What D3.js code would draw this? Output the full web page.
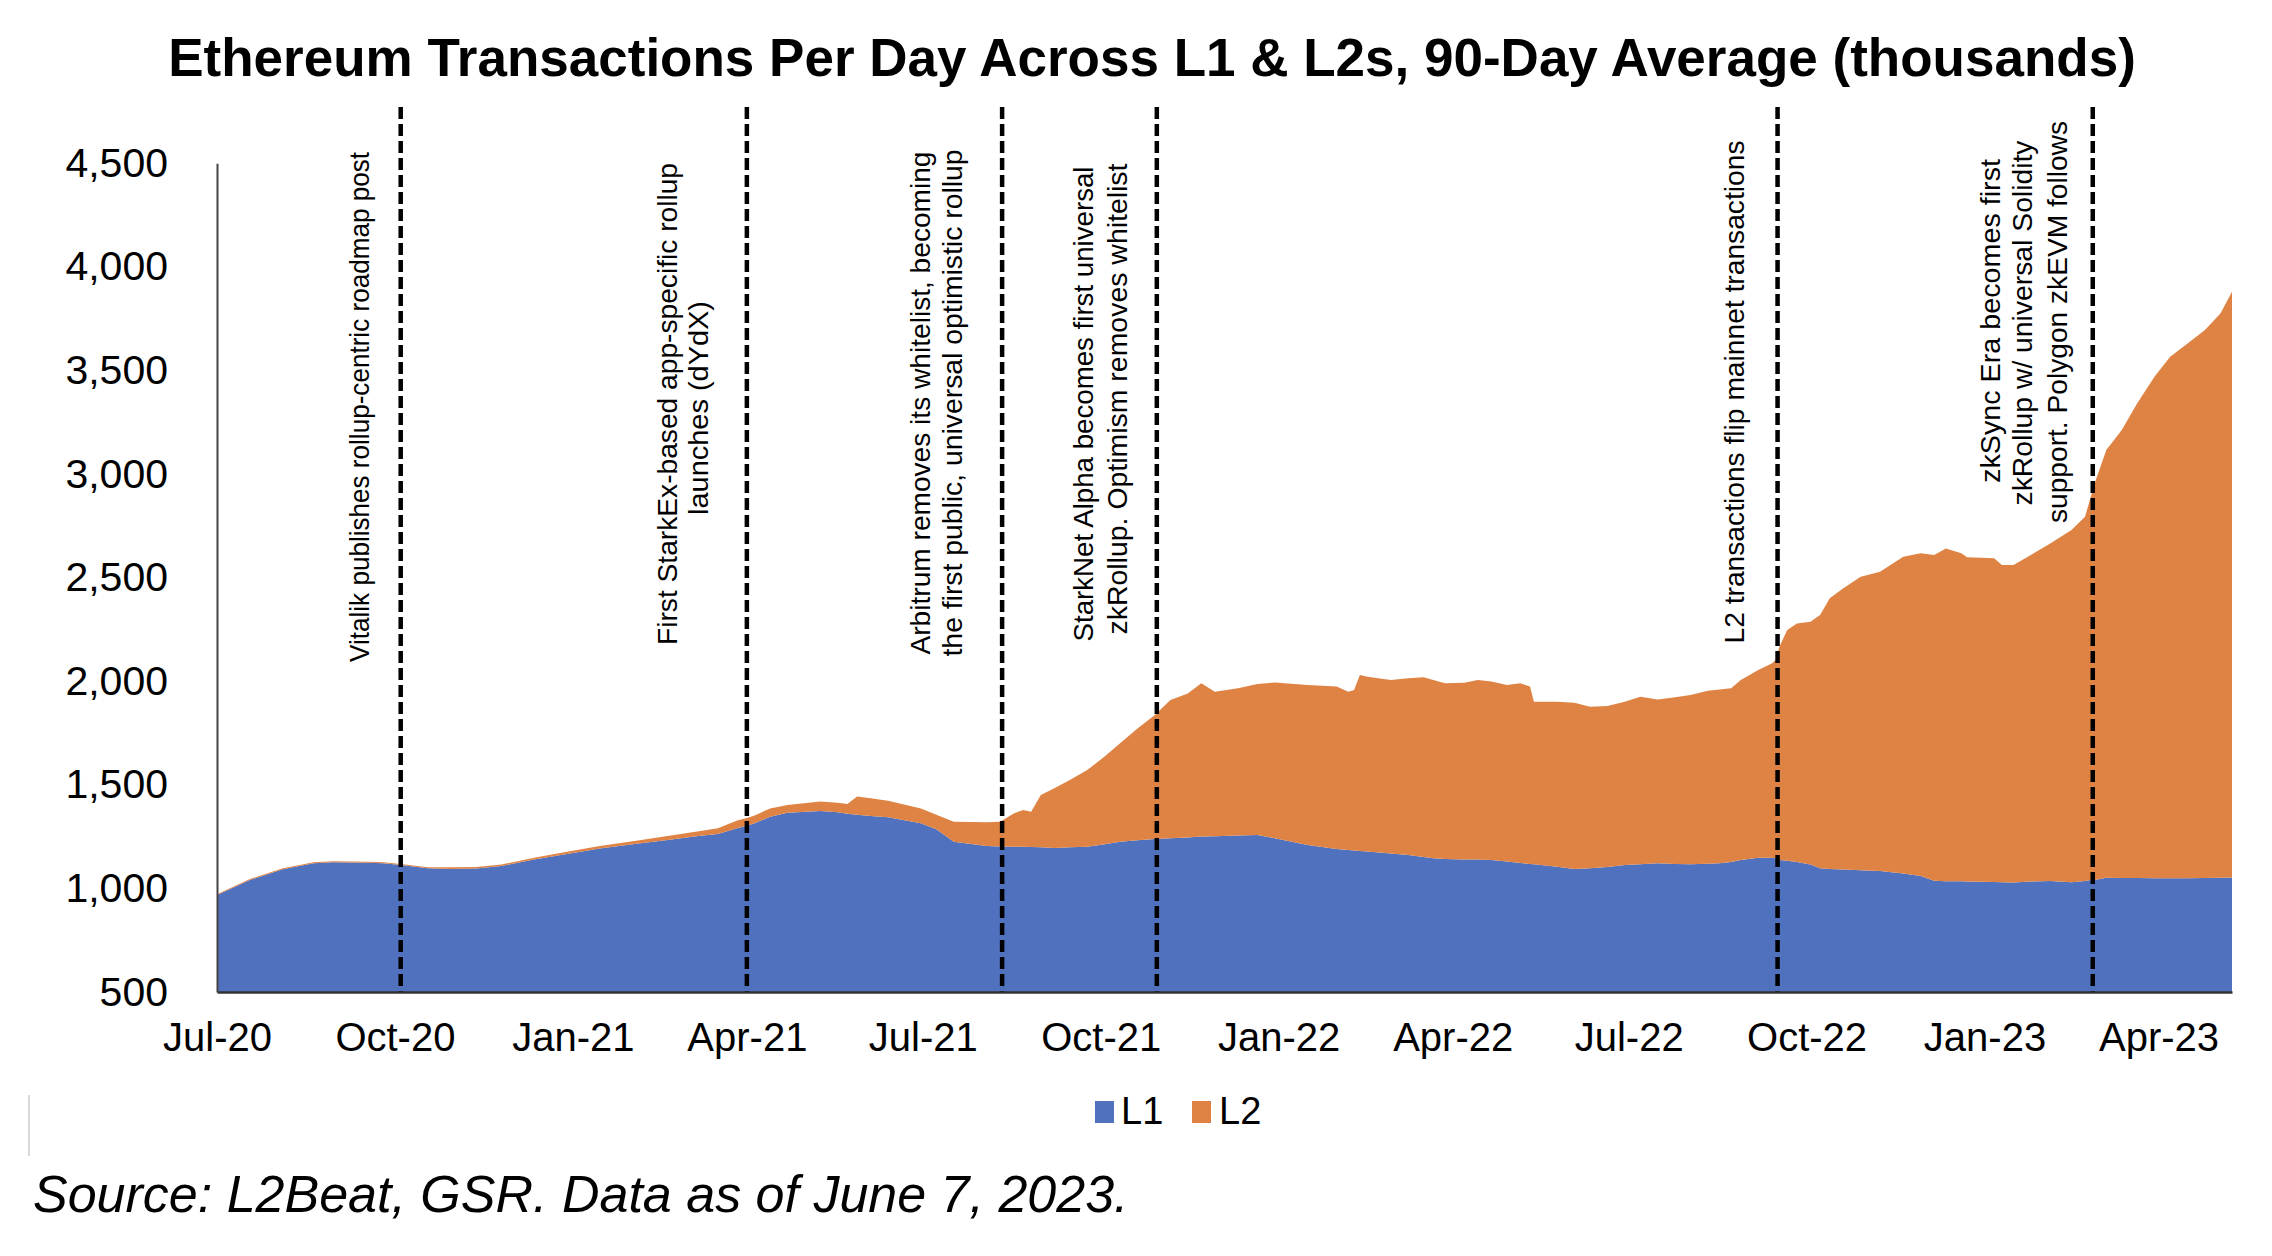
<!DOCTYPE html>
<html>
<head>
<meta charset="utf-8">
<script src="https://cdn.jsdelivr.net/npm/d3@7"></script>
<style>
html,body{margin:0;padding:0;background:#ffffff;}
svg{display:block;}
text{font-family:"Liberation Sans", Arial, Helvetica, sans-serif;}
</style>
</head>
<body>
<svg id="chart" width="2272" height="1256"></svg>
<script>
// ---------------- DATA ----------------
const chartTitle = "Ethereum Transactions Per Day Across L1 & L2s, 90-Day Average (thousands)";
const sourceNote = "Source: L2Beat, GSR. Data as of June 7, 2023.";
const seriesNames = ["L1", "L2"];

const dates = [
"2020-07-01","2020-07-18","2020-08-04","2020-08-20","2020-08-30","2020-09-17","2020-09-25","2020-10-04",
"2020-10-18","2020-10-30","2020-11-12","2020-11-25","2020-12-12","2020-12-29","2021-01-15","2021-02-02",
"2021-02-19","2021-03-08","2021-03-17","2021-03-27","2021-04-01","2021-04-05","2021-04-13","2021-04-22",
"2021-05-09","2021-05-18","2021-05-23","2021-05-28","2021-06-04","2021-06-13","2021-06-30","2021-07-08",
"2021-07-17","2021-08-03","2021-08-10","2021-08-17","2021-08-22","2021-08-26","2021-08-31","2021-09-07",
"2021-09-15","2021-09-24","2021-10-03","2021-10-11","2021-10-20","2021-10-29","2021-11-06","2021-11-15",
"2021-11-22","2021-11-29","2021-12-11","2021-12-21","2021-12-30","2022-01-16","2022-01-31","2022-02-06",
"2022-02-09","2022-02-12","2022-02-16","2022-02-28","2022-03-09","2022-03-17","2022-03-22","2022-03-28",
"2022-04-07","2022-04-14","2022-04-21","2022-04-29","2022-05-06","2022-05-11","2022-05-13","2022-05-25",
"2022-06-03","2022-06-11","2022-06-20","2022-06-29","2022-07-07","2022-07-16","2022-07-25","2022-08-02",
"2022-08-11","2022-08-17","2022-08-23","2022-08-28","2022-09-06","2022-09-13","2022-09-15","2022-09-17",
"2022-09-21","2022-09-26","2022-10-03","2022-10-08","2022-10-13","2022-10-20","2022-10-29","2022-11-08",
"2022-11-20","2022-11-29","2022-12-06","2022-12-12","2022-12-20","2022-12-23","2023-01-06","2023-01-10",
"2023-01-16","2023-01-25","2023-02-04","2023-02-15","2023-02-22","2023-02-25","2023-02-27","2023-03-05",
"2023-03-13","2023-03-21","2023-03-30","2023-04-07","2023-04-16","2023-04-25","2023-05-03","2023-05-09"
];

const l1Values = [
 968,1040,1092,1121,1126,1124,1121,1113,
1097,1094,1096,1108,1140,1166,1193,1214,
1234,1254,1262,1290,1302,1314,1346,1365,
1373,1367,1360,1355,1350,1343,1314,1285,
1225,1205,1202,1201,1201,1200,1198,1195,
1198,1201,1213,1225,1232,1238,1242,1246,
1250,1252,1255,1258,1242,1209,1190,1185,
1183,1181,1178,1168,1161,1152,1145,1142,
1140,1139,1137,1130,1122,1118,1116,1105,
1094,1097,1103,1113,1117,1121,1118,1116,
1119,1121,1128,1137,1148,1148,1145,1137,
1133,1127,1115,1097,1094,1091,1088,1084,
1072,1060,1037,1035,1034,1033,1031,1030,
1029,1033,1036,1030,1036,1040,1041,1052,
1050,1050,1049,1049,1049,1050,1051,1053
];

const l2Values = [
   4,   5,   5,   5,   5,   5,   5,   5,
   5,   8,   7,   7,   8,  11,  12,  15,
  19,  23,  28,  38,  38,  38,  40,  37,
  46,  46,  47,  88,  85,  80,  72,  70,
  97, 114, 120, 161, 177, 170, 253, 288,
 325, 370, 423, 475, 540, 599, 667, 695,
 740, 697, 711, 728, 752, 773, 784, 764,
 774, 849, 844, 838, 853, 867, 861, 848,
 853, 867, 861, 852, 868, 856, 785, 796,
 802, 780, 777, 788, 808, 791, 804, 817,
 835, 839, 838, 869, 906, 938, 957,1030,
1114,1152,1172,1222,1306,1357,1416,1444,
1529,1557,1572,1606,1583,1565,1562,1531,
1532,1576,1629,1700,1758,1850,1914,2064,
2162,2291,2421,2517,2581,2645,2724,2827
];

const yTickValues = [500,1000,1500,2000,2500,3000,3500,4000,4500];
const xTickDates  = ["2020-07-01","2020-10-01","2021-01-01","2021-04-01","2021-07-01","2021-10-01",
                     "2022-01-01","2022-04-01","2022-07-01","2022-10-01","2023-01-01","2023-04-01"];
const xTickLabels = ["Jul-20","Oct-20","Jan-21","Apr-21","Jul-21","Oct-21",
                     "Jan-22","Apr-22","Jul-22","Oct-22","Jan-23","Apr-23"];

const eventDates = ["2020-10-04","2021-04-01","2021-08-11","2021-10-30","2022-09-16","2023-02-26"];
const eventTexts = [
  ["Vitalik publishes rollup-centric roadmap post"],
  ["First StarkEx-based app-specific rollup", "launches (dYdX)"],
  ["Arbitrum removes its whitelist, becoming", "the first public, universal optimistic rollup"],
  ["StarkNet Alpha becomes first universal", "zkRollup. Optimism removes whitelist"],
  ["L2 transactions flip mainnet transactions"],
  ["zkSync Era becomes first", "zkRollup w/ universal Solidity", "support. Polygon zkEVM follows"]
];

// ---------------- LAYOUT / STYLE ----------------
const plot = {left: 217, right: 2232, top: 163.2, bottom: 992};
const colors = {L1: "#5071BE", L2: "#DF8345"};
const FONT = '"Liberation Sans", Arial, Helvetica, sans-serif';

// label layout: per event, per line: [centerX offset from dashed line, centerY, target length]
const labelLayout = [
  [[-41, 407, 510]],
  [[-79, 404, 482], [-48, 408, 214]],
  [[-82, 403, 503], [-50, 403, 507]],
  [[-73, 404, 475], [-39, 399, 471]],
  [[-43, 392, 503]],
  [[-102, 321, 324], [-70, 323, 365], [-35, 322, 402]]
];

const parse = s => new Date(s + "T00:00:00Z");
const table = dates.map((d, i) => ({date: parse(d), L1: l1Values[i], L2: l2Values[i]}));

const svg = d3.select("#chart");

const x = d3.scaleUtc()
  .domain([parse(dates[0]), parse(dates[dates.length - 1])])
  .range([plot.left, plot.right]);
const y = d3.scaleLinear()
  .domain([500, 4500])
  .range([plot.bottom, plot.top]);

svg.append("defs").append("clipPath").attr("id", "plotclip")
  .append("rect")
  .attr("x", plot.left).attr("y", plot.top - 300)
  .attr("width", plot.right - plot.left).attr("height", plot.bottom - plot.top + 300);

const stacked = d3.stack().keys(seriesNames)(table);
const area = d3.area()
  .x(d => x(d.data.date))
  .y0(d => y(d[0]))
  .y1(d => y(d[1]))
  .curve(d3.curveLinear);

svg.append("g").attr("clip-path", "url(#plotclip)")
  .selectAll("path").data(stacked).join("path")
  .attr("d", area)
  .attr("fill", d => colors[d.key]);

// dashed event lines
svg.append("g").selectAll("line").data(eventDates).join("line")
  .attr("x1", d => x(parse(d))).attr("x2", d => x(parse(d)))
  .attr("y1", 107).attr("y2", plot.bottom)
  .attr("stroke", "#000").attr("stroke-width", 4.5)
  .attr("stroke-dasharray", "12,5");

// axes
const xAxis = d3.axisBottom(x)
  .tickValues(xTickDates.map(parse))
  .tickFormat((d, i) => xTickLabels[i])
  .tickSize(0).tickSizeOuter(0).tickPadding(31);
const gx = svg.append("g").attr("transform", `translate(0,${plot.bottom})`).call(xAxis);
gx.select(".domain").attr("stroke", "#333").attr("stroke-width", 2.5);
gx.selectAll("text").attr("font-size", 40).attr("fill", "#000").style("font-family", FONT);

const yAxis = d3.axisLeft(y)
  .tickValues(yTickValues)
  .tickFormat(d3.format(","))
  .tickSize(0).tickSizeOuter(0).tickPadding(49);
const gy = svg.append("g").attr("transform", `translate(${plot.left},0)`).call(yAxis);
gy.select(".domain").attr("stroke", "#444").attr("stroke-width", 2);
gy.selectAll("text").attr("font-size", 41).attr("fill", "#000").style("font-family", FONT);

// event labels (rotated)
const labG = svg.append("g");
eventTexts.forEach((lines, ei) => {
  const lx = x(parse(eventDates[ei]));
  lines.forEach((txt, li) => {
    const [dx, cy, target] = labelLayout[ei][li];
    labG.append("text")
      .attr("transform", `translate(${lx + dx},${cy}) rotate(-90)`)
      .attr("text-anchor", "middle")
      .attr("dominant-baseline", "central")
      .attr("font-size", 28)
      .attr("fill", "#000")
      .attr("textLength", target)
      .attr("lengthAdjust", "spacingAndGlyphs")
      .style("font-family", FONT)
      .text(txt);
  });
});

// title
svg.append("text")
  .attr("x", 1152).attr("y", 76)
  .attr("text-anchor", "middle")
  .attr("font-size", 53).attr("font-weight", "bold")
  .attr("fill", "#000")
  .style("font-family", FONT)
  .text(chartTitle);

// legend
const legend = svg.append("g");
const legItems = [{k: "L1", sx: 1095, tx: 1121}, {k: "L2", sx: 1192, tx: 1219}];
legend.selectAll("rect").data(legItems).join("rect")
  .attr("x", d => d.sx).attr("y", 1101).attr("width", 19).attr("height", 22)
  .attr("fill", d => colors[d.k]);
legend.selectAll("text").data(legItems).join("text")
  .attr("x", d => d.tx).attr("y", 1124)
  .attr("font-size", 38).attr("fill", "#000")
  .style("font-family", FONT)
  .text(d => d.k);

// thin gray rule at left
svg.append("line").attr("x1", 29).attr("x2", 29).attr("y1", 1095).attr("y2", 1156)
  .attr("stroke", "#d9d9d9").attr("stroke-width", 2);

// source
svg.append("text")
  .attr("x", 33).attr("y", 1212)
  .attr("font-size", 52).attr("font-style", "italic")
  .attr("fill", "#000")
  .style("font-family", FONT)
  .text(sourceNote);
</script>
</body>
</html>
